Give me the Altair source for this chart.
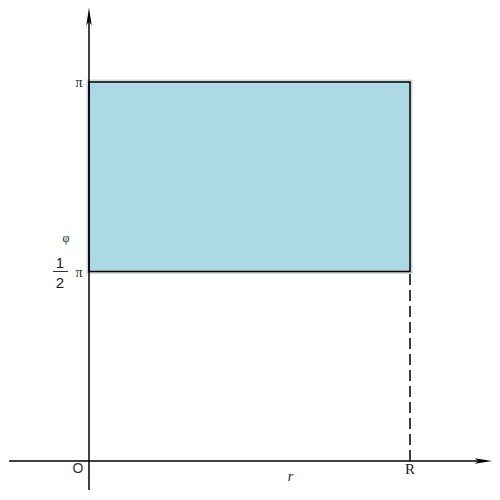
import altair as alt
import pandas as pd

# ---- data -------------------------------------------------------------
R_VALUE = 1.0              # radius r ranges over [0, R]
PHI_RANGE = [0.5, 1.0]     # phi in units of pi: [pi/2, pi]
Y_TICKS = [1.0, 0.5]       # tick positions (units of pi)
X_LABELS = ["O", "R"]
X_LABEL_POS = [0.0, 1.0]

# axis extents (data units)
X_AXIS = [-0.249, 1.255]
Y_AXIS = [-0.0765, 1.195]

FILL = "#ADD8E6"
FONT_SERIF = "Liberation Serif"
FONT_SANS = "Liberation Sans"
TXT = "#1a1a1a"

xs = alt.Scale(domain=[-0.25234, 1.25545], nice=False, zero=False)
ys = alt.Scale(domain=[-0.08179, 1.19525], nice=False, zero=False)

rect_df = pd.DataFrame({"r0": [0.0], "r1": [R_VALUE],
                        "p0": [PHI_RANGE[0]], "p1": [PHI_RANGE[1]]})

base = alt.Chart(rect_df)

halo = base.mark_rect(fill=FILL, stroke="#cdd6de", strokeWidth=5).encode(
    x=alt.X("r0:Q", scale=xs, axis=None), x2="r1:Q",
    y=alt.Y("p0:Q", scale=ys, axis=None), y2="p1:Q")

rect = base.mark_rect(fill=FILL, stroke="black", strokeWidth=1.5).encode(
    x=alt.X("r0:Q", scale=xs, axis=None), x2="r1:Q",
    y=alt.Y("p0:Q", scale=ys, axis=None), y2="p1:Q")

dash = base.mark_rule(stroke="black", strokeWidth=1.5, strokeDash=[11, 5]).encode(
    x=alt.X("r1:Q", scale=xs, axis=None),
    y=alt.Y("zero:Q", scale=ys, axis=None), y2="p0:Q"
).transform_calculate(zero="0")

# axes lines
xaxis_df = pd.DataFrame({"a": [X_AXIS[0]], "b": [X_AXIS[1] - 0.026], "y": [0.0]})
xaxis = alt.Chart(xaxis_df).mark_rule(stroke="black", strokeWidth=1.5).encode(
    x=alt.X("a:Q", scale=xs, axis=None), x2="b:Q",
    y=alt.Y("y:Q", scale=ys, axis=None))

yaxis_df = pd.DataFrame({"x": [0.0], "a": [Y_AXIS[0]], "b": [Y_AXIS[1] - 0.022]})
yaxis = alt.Chart(yaxis_df).mark_rule(stroke="black", strokeWidth=1.5).encode(
    x=alt.X("x:Q", scale=xs, axis=None),
    y=alt.Y("a:Q", scale=ys, axis=None), y2="b:Q")

# arrow heads
xarrow = alt.Chart(pd.DataFrame({"x": [X_AXIS[1] - 0.026], "y": [0.0]})).mark_point(
    shape="M1,0L-1,-0.3L-0.55,0L-1,0.3Z", filled=True, color="black",
    size=320, opacity=1).encode(
    x=alt.X("x:Q", scale=xs, axis=None), y=alt.Y("y:Q", scale=ys, axis=None))

yarrow = alt.Chart(pd.DataFrame({"x": [0.0], "y": [Y_AXIS[1] - 0.022]})).mark_point(
    shape="M0,-1L-0.3,1L0,0.55L0.3,1Z", filled=True, color="black",
    size=320, opacity=1).encode(
    x=alt.X("x:Q", scale=xs, axis=None), y=alt.Y("y:Q", scale=ys, axis=None))

# tick labels on phi axis
pi_df = pd.DataFrame({"x": [0.0, 0.0], "y": Y_TICKS, "t": ["π", "π"]})
pi_labels = alt.Chart(pi_df).mark_text(
    font=FONT_SERIF, fontSize=14, dx=-10, dy=1, align="center", baseline="middle",
    color=TXT).encode(
    x=alt.X("x:Q", scale=xs, axis=None), y=alt.Y("y:Q", scale=ys, axis=None), text="t:N")

half_df = pd.DataFrame({"x": [0.0], "y": [PHI_RANGE[0]]})
one = alt.Chart(half_df).mark_text(
    text="1", font=FONT_SANS, fontSize=15, dx=-29, dy=-9, align="center",
    baseline="middle", color=TXT).encode(
    x=alt.X("x:Q", scale=xs, axis=None), y=alt.Y("y:Q", scale=ys, axis=None))
two = alt.Chart(half_df).mark_text(
    text="2", font=FONT_SANS, fontSize=15, dx=-29, dy=11, align="center",
    baseline="middle", color=TXT).encode(
    x=alt.X("x:Q", scale=xs, axis=None), y=alt.Y("y:Q", scale=ys, axis=None))
bar = alt.Chart(half_df).mark_rule(stroke="#333", strokeWidth=1).encode(
    x=alt.value(45), x2=alt.value(60),
    y=alt.Y("y:Q", scale=ys, axis=None))

phi_title = alt.Chart(half_df).mark_text(
    text="φ", font=FONT_SERIF, fontSize=12, dx=-23, dy=-34, align="center",
    baseline="middle", color=TXT).encode(
    x=alt.X("x:Q", scale=xs, axis=None), y=alt.Y("y:Q", scale=ys, axis=None))

# labels on r axis
xl_df = pd.DataFrame({"x": X_LABEL_POS, "y": [0.0, 0.0], "t": X_LABELS})
o_label = alt.Chart(xl_df.iloc[[0]]).mark_text(
    font=FONT_SANS, fontSize=14, dx=-11, dy=8, align="center", baseline="middle",
    color="#333").encode(
    x=alt.X("x:Q", scale=xs, axis=None), y=alt.Y("y:Q", scale=ys, axis=None), text="t:N")
r_label = alt.Chart(xl_df.iloc[[1]]).mark_text(
    font=FONT_SERIF, fontSize=15, dx=0, dy=8, align="center", baseline="middle",
    color=TXT).encode(
    x=alt.X("x:Q", scale=xs, axis=None), y=alt.Y("y:Q", scale=ys, axis=None), text="t:N")

r_title = alt.Chart(pd.DataFrame({"x": [X_AXIS[1] / 2], "y": [0.0]})).mark_text(
    text="r", font=FONT_SERIF, fontSize=14, fontStyle="italic", dy=16,
    align="center", baseline="middle", color=TXT).encode(
    x=alt.X("x:Q", scale=xs, axis=None), y=alt.Y("y:Q", scale=ys, axis=None))

chart = alt.layer(
    halo, rect, dash, xaxis, yaxis, xarrow, yarrow,
    pi_labels, one, two, bar, phi_title, o_label, r_label, r_title
).properties(
    width=484, height=484, padding=0, autosize=alt.AutoSizeParams(type="none"),
    background="white"
).configure_view(strokeWidth=0)

chart.save("out.html", embed_options={"renderer": "svg", "actions": False})
